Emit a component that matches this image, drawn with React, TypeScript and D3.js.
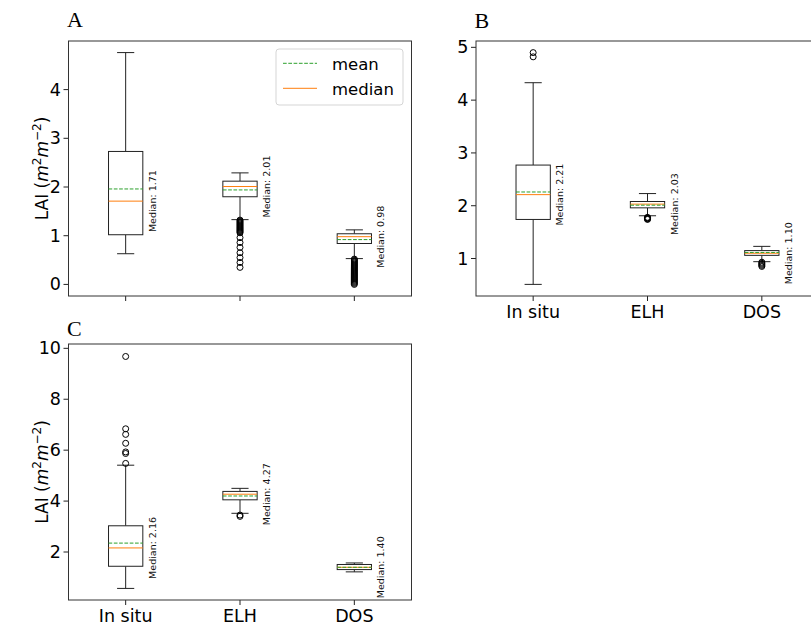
import React from "react";
import * as d3 from "d3";

// categories shared by all three panels
const categories = ["In situ", "ELH", "DOS"];

// Panel A box statistics (LAI)
const aLow = [0.63, 1.33, 0.53];
const aQ1 = [1.02, 1.8, 0.84];
const aMed = [1.71, 2.01, 0.98];
const aQ3 = [2.73, 2.12, 1.04];
const aHigh = [4.76, 2.29, 1.12];
const aMean = [1.96, 1.94, 0.92];
const aOutElh = [1.32, 1.3, 1.28, 1.26, 1.24, 1.22, 1.2, 1.18, 1.16, 1.14, 1.12, 1.1, 1.08, 1.06, 0.96, 0.86, 0.76, 0.65, 0.55, 0.45, 0.35];
const aOutDos = [0.52, 0.5, 0.48, 0.46, 0.44, 0.42, 0.4, 0.38, 0.36, 0.34, 0.32, 0.3, 0.28, 0.26, 0.24, 0.22, 0.2, 0.18, 0.16, 0.14, 0.12, 0.1, 0.08, 0.06, 0.04, 0.02, 0.0];
const aTicks = [0, 1, 2, 3, 4];

// Panel B
const bLow = [0.51, 1.81, 0.94];
const bQ1 = [1.74, 1.96, 1.06];
const bMed = [2.21, 2.03, 1.1];
const bQ3 = [2.77, 2.08, 1.15];
const bHigh = [4.33, 2.23, 1.23];
const bMean = [2.26, 2.01, 1.115];
const bOutInsitu = [4.82, 4.9];
const bOutElh = [1.78, 1.77, 1.76, 1.75, 1.74];
const bOutDos = [0.93, 0.91, 0.89, 0.87, 0.85];
const bTicks = [1, 2, 3, 4, 5];

// Panel C
const cLow = [0.57, 3.52, 1.22];
const cQ1 = [1.44, 4.05, 1.31];
const cMed = [2.16, 4.27, 1.4];
const cQ3 = [3.03, 4.38, 1.51];
const cHigh = [5.41, 4.5, 1.57];
const cMean = [2.35, 4.2, 1.4];
const cOutInsitu = [9.68, 6.84, 6.62, 6.27, 5.93, 5.87, 5.48];
const cOutElh = [3.45, 3.4];
const cTicks = [2, 4, 6, 8, 10];

const ORANGE = "#ff7f0e";
const GREEN = "#2ca02c";
const LINE = "#222";
const SANS = "DejaVu Sans, sans-serif";

type Stats = {
  low: number[]; q1: number[]; med: number[]; q3: number[]; high: number[]; mean: number[];
  outliers: number[][];
};

type PanelProps = {
  left: number; top: number; width: number; height: number;
  domain: [number, number]; ticks: number[]; stats: Stats;
  title: string; titleY: number; xLabels: boolean; yLabel: boolean; legend?: boolean;
};

function Panel(p: PanelProps) {
  const x = d3.scaleLinear().domain([0.5, 3.5]).range([p.left, p.left + p.width]);
  const y = d3.scaleLinear().domain(p.domain).range([p.top + p.height, p.top]);
  const boxW = x(1.3) - x(1);
  const capW = boxW / 2;
  const s = p.stats;
  const bottom = p.top + p.height;

  return (
    <g>
      <text x={p.left - 1.5} y={p.titleY} fontFamily="Liberation Serif, serif" fontSize={22}>{p.title}</text>

      {categories.map((c, i) => {
        const cx = x(i + 1);
        return (
          <g key={c}>
            {/* whiskers */}
            <line x1={cx} x2={cx} y1={y(s.q3[i])} y2={y(s.high[i])} stroke={LINE} />
            <line x1={cx} x2={cx} y1={y(s.q1[i])} y2={y(s.low[i])} stroke={LINE} />
            <line x1={cx - capW / 2} x2={cx + capW / 2} y1={y(s.high[i])} y2={y(s.high[i])} stroke={LINE} />
            <line x1={cx - capW / 2} x2={cx + capW / 2} y1={y(s.low[i])} y2={y(s.low[i])} stroke={LINE} />
            {/* box */}
            <rect x={cx - boxW / 2} y={y(s.q3[i])} width={boxW} height={y(s.q1[i]) - y(s.q3[i])}
              fill="white" stroke={LINE} />
            <line x1={cx - boxW / 2} x2={cx + boxW / 2} y1={y(s.med[i])} y2={y(s.med[i])} stroke={ORANGE} />
            <line x1={cx - boxW / 2} x2={cx + boxW / 2} y1={y(s.mean[i])} y2={y(s.mean[i])} stroke={GREEN}
              strokeDasharray="3.7,1.6" />
            {/* fliers */}
            {s.outliers[i].map((v, j) => (
              <circle key={j} cx={cx} cy={y(v)} r={3} fill="none" stroke="#000" strokeWidth={1} />
            ))}
            {/* median label */}
            <text transform={`translate(${cx + 26.5},${y(s.med[i])}) rotate(-90)`} textAnchor="middle"
              dominantBaseline="central" fontFamily={SANS} fontSize={9.5} fill="#111">
              {`Median: ${s.med[i].toFixed(2)}`}
            </text>
            {/* x tick */}
            <line x1={cx} x2={cx} y1={bottom} y2={bottom + 5} stroke={LINE} />
            {p.xLabels && (
              <text x={cx} y={bottom + 21.5} textAnchor="middle" fontFamily={SANS} fontSize={17.5}>{c}</text>
            )}
          </g>
        );
      })}

      {/* y axis */}
      {p.ticks.map(t => (
        <g key={t}>
          <line x1={p.left - 5} x2={p.left} y1={y(t)} y2={y(t)} stroke={LINE} />
          <text x={p.left - 7.5} y={y(t)} textAnchor="end" dominantBaseline="central"
            fontFamily={SANS} fontSize={17.5}>{t}</text>
        </g>
      ))}

      {p.yLabel && (
        <text transform={`translate(48,${p.top + p.height / 2}) rotate(-90)`} textAnchor="middle"
          fontFamily={SANS} fontSize={17}>
          <tspan>LAI (</tspan>
          <tspan fontStyle="italic">m</tspan>
          <tspan fontSize={12} dy={-7}>2</tspan>
          <tspan fontStyle="italic" dy={7}>m</tspan>
          <tspan fontSize={12} dy={-7}>−2</tspan>
          <tspan dy={7}>)</tspan>
        </text>
      )}

      {p.legend && (
        <g>
          <rect x={276} y={49} width={127} height={56} rx={3} fill="white" fillOpacity={0.8} stroke="#d5d5d5" />
          <line x1={283} x2={317} y1={63.3} y2={63.3} stroke={GREEN} strokeDasharray="3.7,1.6" />
          <line x1={283} x2={317} y1={88.3} y2={88.3} stroke={ORANGE} />
          <text x={332} y={69.5} fontFamily={SANS} fontSize={16.5}>mean</text>
          <text x={332} y={94.5} fontFamily={SANS} fontSize={16.5}>median</text>
        </g>
      )}

      {/* frame */}
      <rect x={p.left} y={p.top} width={p.width} height={p.height} fill="none" stroke="#333" strokeWidth={1} />
    </g>
  );
}

export default function App() {
  const statsA: Stats = { low: aLow, q1: aQ1, med: aMed, q3: aQ3, high: aHigh, mean: aMean, outliers: [[], aOutElh, aOutDos] };
  const statsB: Stats = { low: bLow, q1: bQ1, med: bMed, q3: bQ3, high: bHigh, mean: bMean, outliers: [bOutInsitu, bOutElh, bOutDos] };
  const statsC: Stats = { low: cLow, q1: cQ1, med: cMed, q3: cQ3, high: cHigh, mean: cMean, outliers: [cOutInsitu, cOutElh, []] };

  return (
    <svg width={811} height={628} style={{ position: "absolute", left: 0, top: 0, background: "white" }}>
      <Panel left={68.5} top={41} width={343} height={255} domain={[-0.238, 4.998]} ticks={aTicks}
        stats={statsA} title="A" titleY={27} xLabels={false} yLabel={true} legend={true} />
      <Panel left={476} top={41} width={343} height={255} domain={[0.29, 5.12]} ticks={bTicks}
        stats={statsB} title="B" titleY={28} xLabels={true} yLabel={false} />
      <Panel left={68.5} top={344} width={343} height={256} domain={[0.115, 10.17]} ticks={cTicks}
        stats={statsC} title="C" titleY={336} xLabels={true} yLabel={true} />
    </svg>
  );
}
